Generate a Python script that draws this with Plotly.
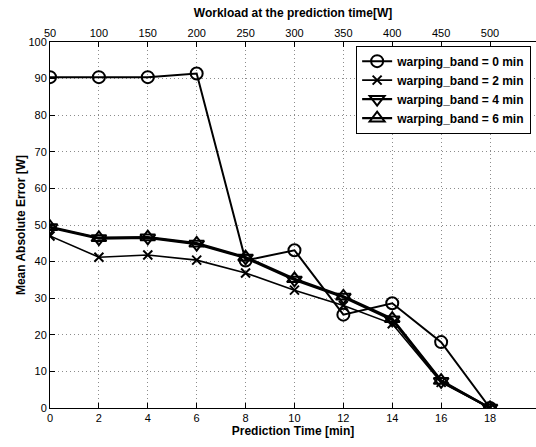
import plotly.graph_objects as go

prediction_time = [0, 2, 4, 6, 8, 10, 12, 14, 16, 18]
workload_ticks = [50, 100, 150, 200, 250, 300, 350, 400, 450, 500]

mae_band0 = [90.4, 90.4, 90.4, 91.4, 40.3, 43.1, 25.5, 28.6, 18.0, 0.0]
mae_band2 = [47.0, 41.2, 41.8, 40.4, 36.9, 32.2, 28.0, 23.0, 7.0, 0.0]
mae_band4 = [49.3, 46.3, 46.5, 44.8, 41.0, 35.0, 30.3, 24.1, 7.3, 0.0]
mae_band6 = [49.5, 46.5, 46.7, 45.0, 41.2, 35.3, 30.5, 24.4, 7.5, 0.0]

series_names = ["warping_band = 0 min", "warping_band = 2 min",
                "warping_band = 4 min", "warping_band = 6 min"]

FONT = "Liberation Sans, Arial, sans-serif"

fig = go.Figure()

styles = [
    (mae_band0, "circle-open", 12, 2.0),
    (mae_band2, "x-thin-open", 9, 1.6),
    (mae_band4, "triangle-down-open", 13, 2.4),
    (mae_band6, "triangle-up-open", 13, 2.4),
]
for name, (vals, sym, size, lw) in zip(series_names, styles):
    fig.add_trace(go.Scatter(
        x=prediction_time, y=vals, name=name, mode="lines+markers",
        line=dict(color="black", width=lw),
        marker=dict(symbol=sym, size=size, color="black",
                    line=dict(color="black", width=2)),
    ))

# invisible trace for the top workload axis
fig.add_trace(go.Scatter(
    x=workload_ticks, y=[0] * len(workload_ticks), xaxis="x2",
    mode="markers", marker=dict(opacity=0), showlegend=False, hoverinfo="skip",
))

x_max = 19.88
GRID = dict(showgrid=True, gridcolor="#8c8c8c", griddash="1px,3px", gridwidth=1)
fig.update_layout(
    width=536, height=447,
    margin=dict(l=50, r=0, t=42, b=39),
    paper_bgcolor="white", plot_bgcolor="white",
    font=dict(family=FONT, size=11, color="black"),
    xaxis=dict(
        range=[0, x_max], tickvals=prediction_time, automargin=False,
        zeroline=False, showline=True, linecolor="black", linewidth=1,
        mirror=False, ticks="inside", ticklen=5, tickcolor="black",
        tickfont=dict(size=11),
        title=dict(text="<b>Prediction Time [min]</b>", font=dict(size=12), standoff=2),
        **GRID,
    ),
    xaxis2=dict(
        overlaying="x", side="top", range=[50, 50 + 25 * x_max], automargin=False,
        tickvals=workload_ticks, showgrid=False, zeroline=False,
        showline=True, linecolor="black", linewidth=1,
        ticks="inside", ticklen=5, tickcolor="black",
        tickfont=dict(size=11),
        title=dict(text="<b>Workload at the prediction time[W]</b>", font=dict(size=12), standoff=6),
    ),
    yaxis=dict(
        range=[0, 100], dtick=10, automargin=False,
        zeroline=False, showline=True, linecolor="black", linewidth=1,
        mirror=True, ticks="inside", ticklen=5, tickcolor="black",
        tickfont=dict(size=11),
        title=dict(text="<b>Mean Absolute Error [W]</b>", font=dict(size=12), standoff=0),
        **GRID,
    ),
    legend=dict(
        x=0.99, y=0.99, xanchor="right", yanchor="top",
        bgcolor="white", bordercolor="black", borderwidth=1,
        font=dict(family=FONT, size=12, color="black", weight="bold"),
        tracegroupgap=0, itemwidth=30,
    ),
    showlegend=True,
)

fig.write_html("out.html", config={"displayModeBar": False},
               post_script="document.body.style.margin='0';document.body.style.overflow='hidden';")
